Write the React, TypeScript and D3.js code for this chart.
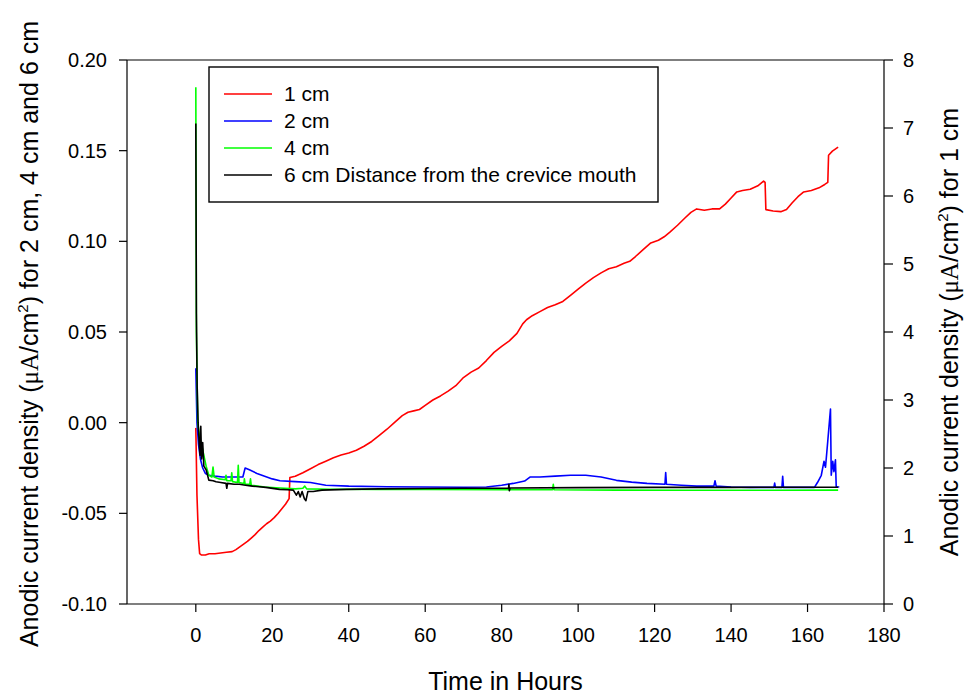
import React from "react";
import * as d3 from "d3";

// ---- data (t in hours, value) ----
const SERIES_NAMES = ["1 cm", "2 cm", "4 cm", "6 cm Distance from the crevice mouth"];
const SERIES_COLORS = ["#ff0000", "#0000ff", "#00ff00", "#000000"];

// 1 cm, right axis (µA/cm²)
const red: [number, number][] = [
  [0, 2.59], [0.3, 1.6], [0.7, 0.95], [1.0, 0.74], [1.5, 0.72], [2.5, 0.72], [3.5, 0.74], [5, 0.74],
  [6.5, 0.75], [8, 0.76], [9.5, 0.77], [10.5, 0.8], [11.5, 0.84], [12.5, 0.88], [13.5, 0.92],
  [14.5, 0.97], [15.5, 1.02], [16.5, 1.08], [17.5, 1.13], [18.5, 1.18], [19.5, 1.22], [20.5, 1.27],
  [21.5, 1.33], [22.5, 1.4], [23.5, 1.47], [24.4, 1.55], [24.6, 1.86], [26, 1.88], [28, 1.93],
  [30, 1.99], [32, 2.05], [34, 2.1], [36, 2.15], [38, 2.19], [40, 2.22], [42, 2.26], [44, 2.32],
  [46, 2.39], [48, 2.48], [50, 2.57], [52, 2.67], [54, 2.77], [55.5, 2.82], [57, 2.84], [58.5, 2.86],
  [60, 2.92], [62, 3.0], [64, 3.06], [66, 3.13], [68, 3.21], [70, 3.33], [72, 3.41], [74, 3.47],
  [76, 3.58], [78, 3.7], [80, 3.79], [82, 3.87], [84, 3.98], [85.5, 4.12], [86.5, 4.18], [88, 4.24],
  [90, 4.3], [92, 4.36], [94, 4.4], [96, 4.45], [98, 4.54], [100, 4.63], [102, 4.72], [104, 4.8],
  [106, 4.87], [108, 4.93], [110, 4.96], [112, 5.01], [113.5, 5.04], [115, 5.11], [117, 5.21],
  [119, 5.31], [121, 5.35], [122.5, 5.4], [124, 5.47], [126, 5.57], [128, 5.68], [129.5, 5.76],
  [131, 5.81], [133, 5.79], [135, 5.81], [137, 5.81], [138.5, 5.88], [140, 5.97], [141.5, 6.06],
  [143, 6.08], [145, 6.1], [147, 6.15], [148.5, 6.22], [148.9, 6.2], [149.1, 5.8], [151, 5.78],
  [153, 5.77], [154.5, 5.8], [156, 5.9], [157.5, 5.99], [159, 6.06], [161, 6.08], [163, 6.12],
  [164.5, 6.17], [165.3, 6.2], [165.5, 6.6], [166.5, 6.66], [168, 6.72],
];

// 2 cm, left axis
const blue: [number, number][] = [
  [0, 0.03], [0.3, 0.0], [0.7, -0.012], [1.2, -0.02], [1.8, -0.025], [2.5, -0.028], [3.5, -0.029],
  [5, -0.0295], [7, -0.03], [9, -0.03], [11, -0.03], [12.3, -0.03], [12.9, -0.025], [14, -0.026],
  [16, -0.028], [18, -0.0295], [20, -0.031], [22, -0.032], [26, -0.0325], [30, -0.033], [34, -0.0345],
  [40, -0.035], [50, -0.0353], [60, -0.0355], [70, -0.0356], [76, -0.0355], [80, -0.0345],
  [83, -0.0335], [86, -0.0322], [87.4, -0.03], [90, -0.03], [94, -0.0295], [98, -0.029], [102, -0.029],
  [106, -0.03], [110, -0.0318], [114, -0.0328], [118, -0.0335], [122.7, -0.034], [122.9, -0.0275],
  [123.1, -0.034], [127, -0.0345], [131, -0.035], [135.5, -0.035], [135.8, -0.032], [136.1, -0.035],
  [140, -0.0355], [145, -0.0357], [151.2, -0.0357], [151.4, -0.0333], [151.6, -0.0357],
  [153.3, -0.0357], [153.5, -0.0296], [153.7, -0.0357], [158, -0.0357], [161.8, -0.0357],
  [162.6, -0.033], [163.6, -0.029], [164.3, -0.0213], [164.7, -0.0246], [165.3, -0.01], [166.0, 0.0075],
  [166.2, -0.029], [166.6, -0.0213], [166.9, -0.027], [167.3, -0.0205], [167.5, -0.0353], [168.3, -0.0355],
];

// 4 cm, left axis
const green: [number, number][] = [
  [0, 0.185], [0.15, 0.05], [0.5, 0.0], [1, -0.008], [1.6, -0.013], [2.2, -0.019], [2.7, -0.024],
  [3.4, -0.029], [4.2, -0.03], [4.5, -0.0245], [4.8, -0.03], [6, -0.031], [7.7, -0.0315], [7.9, -0.029],
  [8.1, -0.032], [9.2, -0.032], [9.4, -0.0277], [9.6, -0.0325], [10.9, -0.033], [11.1, -0.0235],
  [11.3, -0.033], [12.6, -0.0335], [12.7, -0.031], [12.9, -0.034], [14.1, -0.034], [14.3, -0.031],
  [14.5, -0.0345], [18, -0.0355], [22, -0.036], [26, -0.0365], [28, -0.0362], [28.5, -0.035],
  [29, -0.0365], [35, -0.0367], [48, -0.0368], [60, -0.0368], [80, -0.0369], [93.3, -0.037],
  [93.5, -0.034], [93.7, -0.037], [110, -0.0372], [130, -0.0373], [150, -0.0373], [168, -0.0372],
];

// 6 cm, left axis
const black: [number, number][] = [
  [0, 0.165], [0.15, 0.06], [0.35, 0.02], [0.6, 0.0], [0.9, -0.012], [1.1, -0.018], [1.3, -0.002],
  [1.5, -0.02], [1.8, -0.011], [2.1, -0.024], [2.7, -0.026], [3.4, -0.0317], [4.5, -0.032],
  [5.3, -0.0326], [6.5, -0.033], [7.9, -0.0335], [8.1, -0.0362], [8.3, -0.0335], [10, -0.034],
  [11.4, -0.034], [13, -0.0345], [14.8, -0.035], [18.3, -0.0357], [21.9, -0.0368], [24, -0.037],
  [25.5, -0.0372], [26.3, -0.04], [26.8, -0.038], [27.3, -0.041], [27.8, -0.038], [28.4, -0.042],
  [28.8, -0.043], [29.3, -0.038], [30.7, -0.038], [33, -0.0372], [39.4, -0.0368], [48, -0.0365],
  [60, -0.0363], [70, -0.0362], [81.8, -0.036], [81.9, -0.034], [82.0, -0.0375], [82.2, -0.036],
  [100, -0.0358], [120, -0.0357], [140, -0.0357], [155, -0.0356], [168, -0.0356],
];

const X_TICKS = [0, 20, 40, 60, 80, 100, 120, 140, 160, 180];
const YL_TICKS = [-0.1, -0.05, 0, 0.05, 0.1, 0.15, 0.2];
const YL_LABELS = ["-0.10", "-0.05", "0.00", "0.05", "0.10", "0.15", "0.20"];
const YR_TICKS = [0, 1, 2, 3, 4, 5, 6, 7, 8];
const X_TITLE = "Time in Hours";

const FONT = "'Liberation Sans', Arial, Helvetica, sans-serif";
const SERIF = "'Liberation Serif', 'Times New Roman', serif";

export default function App() {
  const W = 968, H = 694;
  const L = 127, R = 884, T = 60, B = 604;
  const x = d3.scaleLinear().domain([-18, 180]).range([L, R]);
  const yL = d3.scaleLinear().domain([-0.1, 0.2]).range([B, T]);
  const yR = d3.scaleLinear().domain([0, 8]).range([B, T]);

  const lineL = d3.line<[number, number]>().x(d => x(d[0])).y(d => yL(d[1]));
  const lineR = d3.line<[number, number]>().x(d => x(d[0])).y(d => yR(d[1]));

  const paths = [lineR(red), lineL(blue), lineL(green), lineL(black)];

  const legX = 209, legY = 67, legW = 449, legH = 135;
  const rowY = (i: number) => 94 + i * 27;

  return (
    <svg width={W} height={H} style={{ position: "absolute", left: 0, top: 0, background: "#fff" }}
      fontFamily={FONT}>
      <defs>
        <clipPath id="plot"><rect x={L} y={T} width={R - L} height={B - T} /></clipPath>
      </defs>
      <rect x={0} y={0} width={W} height={H} fill="#fff" />

      {/* data */}
      <g clipPath="url(#plot)" fill="none" strokeWidth={1.6} strokeLinejoin="round">
        {paths.map((p, i) => (
          <path key={i} d={p || ""} stroke={SERIES_COLORS[i]} />
        ))}
      </g>

      {/* frame */}
      <g stroke="#000" strokeWidth={1.2} fill="none">
        <line x1={L} y1={T} x2={R} y2={T} />
        <line x1={L} y1={B} x2={R} y2={B} />
        <line x1={L} y1={T} x2={L} y2={B} />
        <line x1={R} y1={T} x2={R} y2={B} />
      </g>

      {/* x axis */}
      <g fontSize={20} textAnchor="middle" fill="#000">
        {X_TICKS.map(t => (
          <g key={t}>
            <line x1={x(t)} x2={x(t)} y1={B} y2={B + 8} stroke="#000" strokeWidth={1.2} />
            <text x={x(t)} y={642}>{t}</text>
          </g>
        ))}
      </g>

      {/* left axis */}
      <g fontSize={20} textAnchor="end" fill="#000">
        {YL_TICKS.map((t, i) => (
          <g key={i}>
            <line x1={L - 8} x2={L} y1={yL(t)} y2={yL(t)} stroke="#000" strokeWidth={1.2} />
            <text x={107} y={yL(t) + 7}>{YL_LABELS[i]}</text>
          </g>
        ))}
      </g>

      {/* right axis */}
      <g fontSize={20} textAnchor="start" fill="#000">
        {YR_TICKS.map(t => (
          <g key={t}>
            <line x1={R} x2={R + 9} y1={yR(t)} y2={yR(t)} stroke="#000" strokeWidth={1.2} />
            <text x={903} y={yR(t) + 7}>{t}</text>
          </g>
        ))}
      </g>

      {/* axis titles */}
      <text x={(L + R) / 2} y={690} fontSize={25} textAnchor="middle" fill="#000">{X_TITLE}</text>
      <text transform={`translate(38,334) rotate(-90)`} fontSize={25} textAnchor="middle" fill="#000">
        Anodic current density (<tspan fontFamily={SERIF}>μA</tspan>/cm<tspan fontSize={15} dy={-10}>2</tspan>
        <tspan dy={10}>) for 2 cm, 4 cm and 6 cm</tspan>
      </text>
      <text transform={`translate(958,332) rotate(-90)`} fontSize={25} textAnchor="middle" fill="#000">
        Anodic current density (<tspan fontFamily={SERIF}>μA</tspan>/cm<tspan fontSize={15} dy={-10}>2</tspan>
        <tspan dy={10}>) for 1 cm</tspan>
      </text>

      {/* legend */}
      <rect x={legX} y={legY} width={legW} height={legH} fill="#fff" stroke="#000" strokeWidth={1.4} />
      {SERIES_NAMES.map((n, i) => (
        <g key={n}>
          <line x1={224} x2={272} y1={rowY(i)} y2={rowY(i)} stroke={SERIES_COLORS[i]} strokeWidth={1.5} />
          <text x={284} y={rowY(i) + 7} fontSize={21} fill="#000">{n}</text>
        </g>
      ))}
    </svg>
  );
}
